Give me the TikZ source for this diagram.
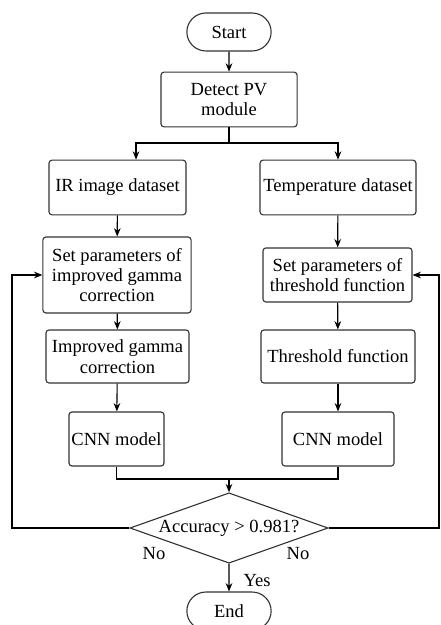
\documentclass[tikz,border=0pt]{standalone}
\usepackage{fontspec}
\setmainfont{Liberation Serif}
\usetikzlibrary{arrows.meta,shapes.misc,shapes.geometric}
\begin{document}
\begin{tikzpicture}[x=0.54pt,y=-0.54pt,line width=0.6pt,>={Stealth[length=4.5pt,width=3.6pt]},font=\fontsize{10pt}{11pt}\selectfont]
	\tikzset{box/.style={draw=black!80,rounded corners=1.6pt,align=center,inner sep=1pt,minimum height=29.5pt},
		term/.style={draw=black!80,rounded rectangle,minimum width=47.5pt,minimum height=20.5pt,inner sep=1pt},
		test/.style={draw=black!80,diamond,aspect=2.8,inner sep=0pt,minimum width=107pt,minimum height=38pt}}
	\useasboundingbox (0,0) rectangle (440,625);
	\node[term] (start) at (229,32) {Start};
	\node[box,minimum width=73.5pt] (detect) at (229,99.5) {Detect PV\\module};
	\node[box,minimum width=74pt] (ir) at (117.5,187.5) {IR image dataset};
	\node[box,minimum width=84.2pt] (temp) at (338,187.5) {Temperature dataset};
	\node[box,minimum width=80pt,minimum height=41pt] (setg) at (117,275) {Set parameters of\\improved gamma\\correction};
	\node[box,minimum width=77.2pt,minimum height=28.6pt] (gamma) at (117.5,356.5) {Improved gamma\\correction};
	\node[box,minimum width=51.3pt,minimum height=29.2pt] (cnnl) at (116.5,439) {CNN model};
	\node[box,minimum width=80.5pt,minimum height=29.2pt] (sett) at (337.5,275) {Set parameters of\\threshold function};
	\node[box,minimum width=83.2pt,minimum height=28.6pt] (thr) at (338,356.5) {Threshold function};
	\node[box,minimum width=60.5pt,minimum height=29.2pt] (cnnr) at (338,439) {CNN model};
	\node[test] (acc) at (229,528) {Accuracy > 0.981?};
	\node[term] (end) at (229,611) {End};
	\node (nol) at (154,554) {No};
	\node (nor) at (298,554) {No};
	\node (yes) at (257,581) {Yes};
	\coordinate (split) at (229,143);
	\coordinate (merge) at (229,479);
	\coordinate (loopl) at (12,528);
	\coordinate (loopr) at (439,528);
	\draw[->] (start) -- (detect);
	\draw (detect) -- (split);
	\draw[->] (split) -| ([xshift=10pt]ir.north);
	\draw[->] (split) -| (temp);
	\draw[->] (ir) -- (setg);
	\draw[->] (setg) -- (gamma);
	\draw[->] (gamma) -- (cnnl);
	\draw[->] (temp) -- (sett);
	\draw[->] (sett) -- (thr);
	\draw[->] (thr) -- (cnnr);
	\draw (cnnl) |- (merge);
	\draw (cnnr) |- (merge);
	\draw[->] (merge) -- (acc);
	\draw[->] (acc) -- (end);
	\draw[->] (acc.west) -- (loopl) |- (setg.west);
	\draw[->] (acc.east) -- (loopr) |- (sett.east);
\end{tikzpicture}
\end{document}
